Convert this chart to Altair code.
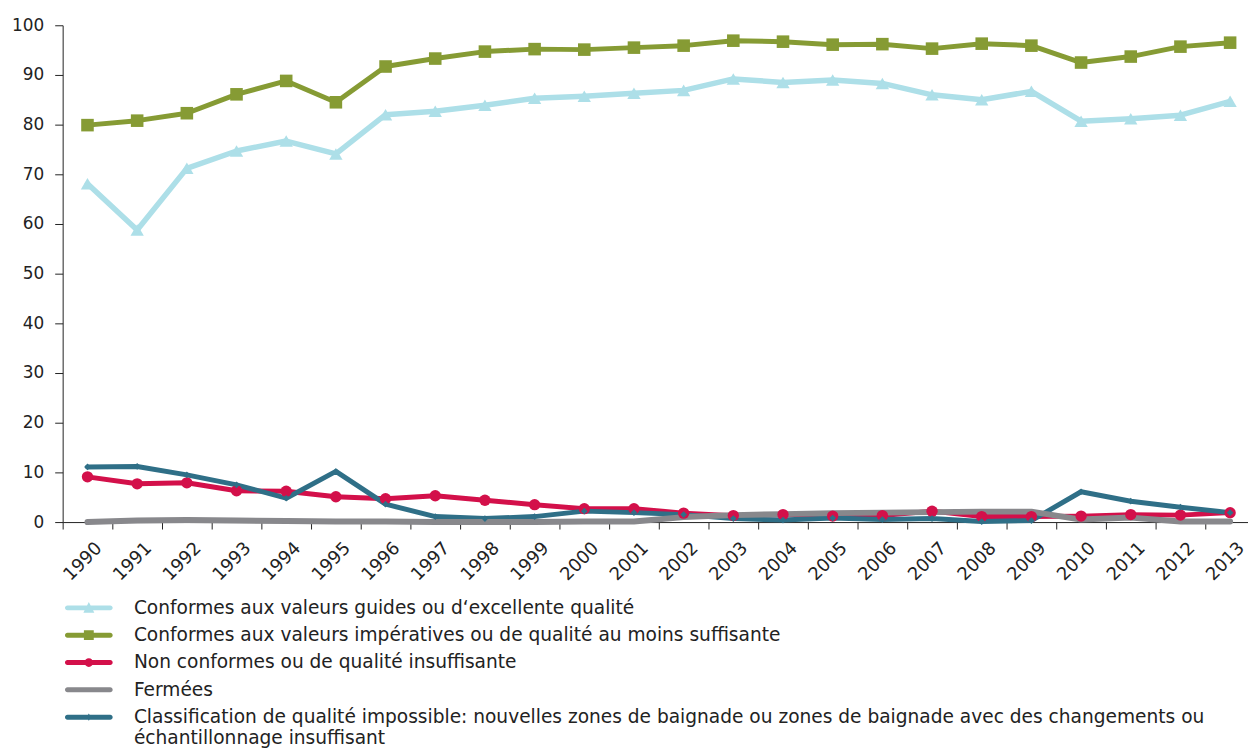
import json
import altair as alt
import pandas as pd

years = [str(y) for y in range(1990, 2014)]

series_names = [
    "Conformes aux valeurs guides ou d\u2018excellente qualité",
    "Conformes aux valeurs impératives ou de qualité au moins suffisante",
    "Non conformes ou de qualité insuffisante",
    "Fermées",
    "Classification de qualité impossible: nouvelles zones de baignade ou zones de baignade avec des changements ou échantillonnage insuffisant",
]
label_lines_last = [
    "Classification de qualité impossible: nouvelles zones de baignade ou zones de baignade avec des changements ou",
    "échantillonnage insuffisant",
]

guides = [68.1, 58.8, 71.2, 74.7, 76.7, 74.1, 82.0, 82.7, 83.9, 85.3, 85.7, 86.3,
          86.9, 89.2, 88.5, 89.0, 88.3, 86.0, 85.0, 86.7, 80.7, 81.2, 81.9, 84.7]
imperatives = [79.9, 80.8, 82.3, 86.1, 88.8, 84.5, 91.7, 93.3, 94.7, 95.2, 95.1, 95.5,
               95.9, 96.9, 96.7, 96.1, 96.2, 95.3, 96.3, 95.9, 92.5, 93.7, 95.7, 96.5]
non_conformes = [9.1, 7.7, 7.9, 6.3, 6.2, 5.1, 4.7, 5.3, 4.4, 3.5, 2.7, 2.7,
                 1.8, 1.3, 1.5, 1.2, 1.3, 2.2, 1.1, 1.1, 1.2, 1.5, 1.4, 1.9]
fermees = [0.0, 0.3, 0.4, 0.3, 0.2, 0.1, 0.1, 0.0, 0.0, 0.0, 0.1, 0.1,
           1.0, 1.4, 1.6, 1.8, 1.9, 2.0, 2.1, 2.1, 0.5, 0.9, 0.1, 0.1]
classification = [11.1, 11.2, 9.5, 7.5, 4.8, 10.2, 3.6, 1.1, 0.7, 1.1, 2.2, 1.9,
                  1.5, 0.7, 0.4, 0.8, 0.5, 0.7, 0.1, 0.3, 6.1, 4.2, 3.0, 1.9]

colors = ["#ADDFE8", "#869B34", "#D3104A", "#88888C", "#2F6F87"]
plot_shapes = ["triangle-up", "square", "circle", None, "diamond"]
plot_sizes = [180, 160, 130, 0, 45]
line_widths = [5.5, 5, 5, 6, 5]

# legend symbols: line segment with marker (custom SVG paths in the -1..1 unit box)
line_path = "M-0.69,-0.31H4.69A0.31,0.31 0 0,1 4.69,0.31H-0.69A0.31,0.31 0 0,1 -0.69,-0.31Z"
legend_paths = [
    line_path + " M1.31,0.6L2,-0.75L2.69,0.6Z",
    line_path + " M1.38,-0.62H2.62V0.62H1.38Z",
    line_path + " M1.45,0A0.55,0.55 0 1,1 2.55,0A0.55,0.55 0 1,1 1.45,0Z",
    line_path,
    line_path + " M2,-0.45L2.3,0L2,0.45L1.7,0Z",
]

values_list = [guides, imperatives, non_conformes, fermees, classification]
rows = []
for name, vals in zip(series_names, values_list):
    for y, v in zip(years, vals):
        rows.append({"year": y, "value": v, "series": name})
df = pd.DataFrame(rows)

FONT = "DejaVu Sans"
TXT = "#222222"
LEG_FS = 18.7

x_enc = alt.X(
    "year:O",
    sort=years,
    scale=alt.Scale(type="band", range=[0, 1200], paddingInner=0, paddingOuter=0),
    axis=alt.Axis(
        title=None, labelAngle=-45, labelFont=FONT, labelFontSize=18, labelColor=TXT,
        tickBand="extent", tickSize=7, tickColor=TXT, domainColor=TXT,
        labelPadding=10, labelOffset=5, grid=False,
    ),
)
y_enc = alt.Y(
    "value:Q",
    scale=alt.Scale(domain=[0, 100], nice=False),
    axis=alt.Axis(
        title=None, values=list(range(0, 101, 10)), labelFont=FONT, labelFontSize=17,
        labelColor=TXT, tickSize=8, tickColor=TXT, domainColor=TXT, labelPadding=11,
        grid=False,
    ),
)
color_scale = alt.Scale(domain=series_names, range=colors)

label_expr = "datum.label == {} ? {} : datum.label".format(
    json.dumps(series_names[4], ensure_ascii=False),
    json.dumps(label_lines_last, ensure_ascii=False),
)
legend_kwargs = dict(
    title=None, orient="none", legendX=1, legendY=577, direction="vertical",
    symbolSize=256, symbolStrokeWidth=0, symbolOpacity=1,
    labelFont=FONT, labelFontSize=LEG_FS, labelColor=TXT, labelLimit=1300,
    labelOffset=52, rowPadding=7.5, padding=0, labelExpr=label_expr,
)


def make_legend_layer(legend):
    return alt.Chart(df).mark_point(filled=True, opacity=0, size=1).encode(
        x=x_enc, y=y_enc,
        color=alt.Color("series:N", scale=color_scale, legend=legend),
        shape=alt.Shape("series:N", scale=alt.Scale(domain=series_names, range=legend_paths),
                        legend=legend),
    )


try:
    legend = alt.Legend(encode={"labels": {"update": {"lineHeight": {"value": 15}}}},
                        **legend_kwargs)
    legend_layer = make_legend_layer(legend)
    legend_layer.to_dict()
except Exception:
    legend = alt.Legend(**legend_kwargs)
    legend_layer = make_legend_layer(legend)


def series_base(i):
    name = series_names[i]
    return alt.Chart(df).transform_filter(alt.datum.series == name).encode(
        x=x_enc, y=y_enc,
        color=alt.Color("series:N", scale=color_scale, legend=None),
    )


def line_layer(i):
    return series_base(i).mark_line(strokeWidth=line_widths[i], strokeCap="round",
                                    strokeJoin="round")


def point_layer(i):
    return series_base(i).mark_point(filled=True, opacity=1, shape=plot_shapes[i],
                                     size=plot_sizes[i], strokeWidth=0)


layers = [
    legend_layer,
    line_layer(2), line_layer(4), line_layer(3),
    point_layer(2), point_layer(4),
    line_layer(0), point_layer(0),
    line_layer(1), point_layer(1),
]

chart = alt.layer(*layers).properties(
    width=1193, height=500,
    autosize=alt.AutoSizeParams(type="none"),
    padding={"left": 55, "top": 15, "right": 0, "bottom": 225},
).configure_view(stroke=None)

chart.save("out.html", embed_options={"renderer": "svg", "actions": False})
